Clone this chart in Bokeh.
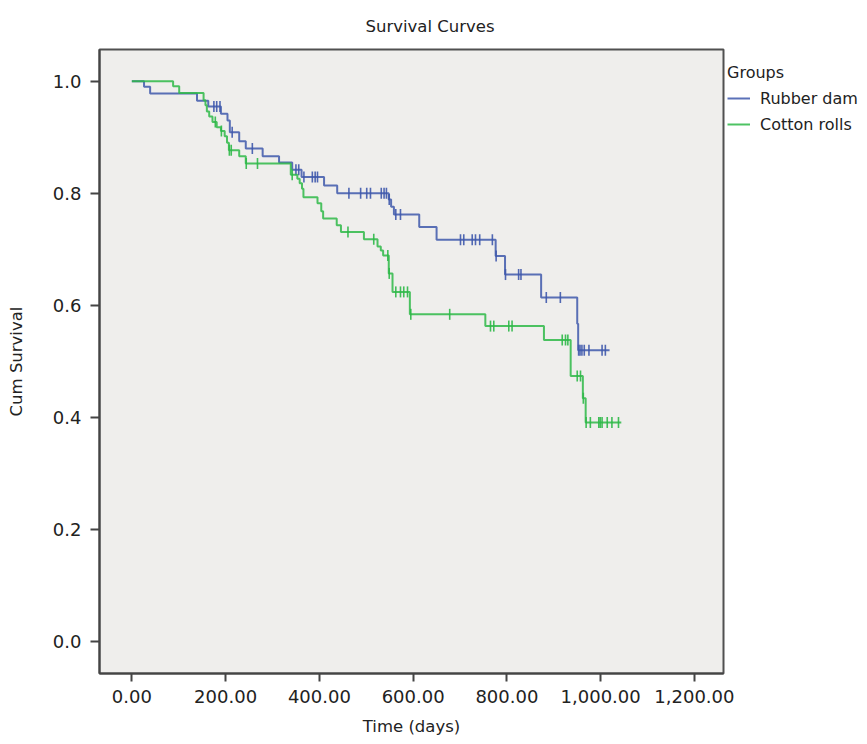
import numpy as np
from bokeh.plotting import figure
from bokeh.models import (Range1d, FixedTicker, NumeralTickFormatter, Legend,
                          LegendItem, ColumnDataSource)
from bokeh.embed import file_html
from bokeh.resources import INLINE

title_text = "Survival Curves"
x_title = "Time (days)"
y_title = "Cum Survival"
legend_title = "Groups"
groups = ["Rubber dam", "Cotton rolls"]

# Rubber dam: event times (days) and survival after each step
rubber_time = [0, 26, 39, 139, 163, 190, 204, 209, 229, 243, 279, 314, 342, 362,
               410, 438, 548, 553, 559, 613, 650, 776, 796, 873, 950, 952, 1019]
rubber_surv = [1.0, 0.990, 0.978, 0.965, 0.955, 0.942, 0.930, 0.909, 0.893, 0.880,
               0.866, 0.855, 0.842, 0.829, 0.814, 0.800, 0.789, 0.776, 0.762, 0.740,
               0.717, 0.688, 0.655, 0.614, 0.567, 0.520, 0.520]
rubber_censor = [175, 181, 188, 214, 257, 350, 356, 367, 385, 391, 396, 463, 488,
                 501, 509, 532, 538, 543, 549, 563, 573, 701, 708, 726, 733, 742,
                 769, 777, 797, 825, 830, 884, 914, 953, 956, 960, 965, 975, 1003,
                 1010]

# Cotton rolls
cotton_time = [0, 88, 101, 153, 157, 160, 165, 172, 181, 190, 198, 203, 207, 229,
               243, 339, 353, 358, 363, 366, 396, 404, 408, 437, 446, 495, 524,
               531, 536, 548, 556, 593, 754, 879, 936, 962, 968, 1044]
cotton_surv = [1.0, 0.991, 0.979, 0.966, 0.957, 0.946, 0.937, 0.927, 0.918, 0.911,
               0.902, 0.890, 0.877, 0.866, 0.853, 0.833, 0.826, 0.818, 0.808, 0.793,
               0.782, 0.768, 0.755, 0.743, 0.731, 0.718, 0.705, 0.698, 0.689, 0.657,
               0.624, 0.584, 0.563, 0.538, 0.474, 0.434, 0.391, 0.391]
cotton_censor = [178, 191, 208, 212, 244, 268, 342, 461, 516, 546, 549, 563, 573,
                 580, 588, 595, 678, 765, 772, 804, 811, 918, 925, 930, 950, 957,
                 963, 969, 978, 996, 999, 1003, 1014, 1024, 1038]

x_ticks = [0, 200, 400, 600, 800, 1000, 1200]
y_ticks = [0.0, 0.2, 0.4, 0.6, 0.8, 1.0]

colors = ["#3E58AC", "#2EB848"]
FONT = "DejaVu Sans"
TXT = "#222222"


def censor_y(times, surv, cens):
    t = np.asarray(times, dtype=float)
    s = np.asarray(surv, dtype=float)
    idx = np.searchsorted(t, np.asarray(cens, dtype=float), side="right") - 1
    return s[idx]


p = figure(frame_width=624, frame_height=624, output_backend="svg",
           toolbar_location=None,
           x_range=Range1d(-69, 1262), y_range=Range1d(-0.057, 1.0566),
           min_border_left=99, min_border_right=136, min_border_top=49,
           min_border_bottom=71)

p.border_fill_color = "white"
p.background_fill_color = "#EFEEEC"
p.outline_line_color = "#505050"
p.outline_line_width = 2
p.grid.visible = False

p.title.text = title_text
p.title.align = "left"
p.title.offset = 266
p.title.standoff = 28
p.title.text_font = FONT
p.title.text_font_size = "16.5px"
p.title.text_font_style = "normal"
p.title.text_color = TXT

for ax in (p.xaxis[0], p.yaxis[0]):
    ax.major_label_text_font = FONT
    ax.major_label_text_font_size = "18px"
    ax.major_label_text_color = TXT
    ax.axis_label_text_font = FONT
    ax.axis_label_text_font_size = "16.5px"
    ax.axis_label_text_font_style = "normal"
    ax.axis_label_text_color = TXT
    ax.axis_line_color = "#444444"
    ax.axis_line_width = 2
    ax.major_tick_line_color = "#444444"
    ax.major_tick_line_width = 2
    ax.major_tick_in = 0
    ax.minor_tick_line_color = None

p.xaxis.ticker = FixedTicker(ticks=x_ticks)
p.xaxis.formatter = NumeralTickFormatter(format="0,0.00")
p.xaxis.axis_label = x_title
p.xaxis.major_tick_out = 8
p.xaxis.major_label_standoff = 8
p.xaxis.axis_label_standoff = 11

p.yaxis.ticker = FixedTicker(ticks=y_ticks)
p.yaxis.formatter = NumeralTickFormatter(format="0.0")
p.yaxis.axis_label = y_title
p.yaxis.major_tick_out = 9
p.yaxis.major_label_standoff = 9
p.yaxis.axis_label_standoff = 24

series = [(rubber_time, rubber_surv, rubber_censor),
          (cotton_time, cotton_surv, cotton_censor)]
items = []
for (t, s, c), col, name in zip(series, colors, groups):
    src = ColumnDataSource(dict(t=t, s=s))
    r = p.step(x="t", y="s", source=src, mode="after", line_color=col,
               line_width=2, line_alpha=0.85)
    cy = censor_y(t, s, c)
    p.scatter(x=c, y=cy, marker="dash", angle=np.pi / 2, size=11,
              line_color=col, line_width=1.6, line_alpha=0.9)
    items.append(LegendItem(label=name, renderers=[r]))

legend = Legend(items=items, location=(0, 534), padding=4, margin=0,
                spacing=4, label_height=22, glyph_height=22, glyph_width=23,
                label_standoff=10, background_fill_alpha=0,
                border_line_alpha=0, label_text_font=FONT,
                label_text_font_size="16px", label_text_color=TXT,
                title=legend_title, title_text_font=FONT,
                title_text_font_size="16px", title_text_font_style="normal",
                title_text_color=TXT, title_standoff=5)
p.add_layout(legend, "right")

open("out.html", "w").write(file_html(p, INLINE))
